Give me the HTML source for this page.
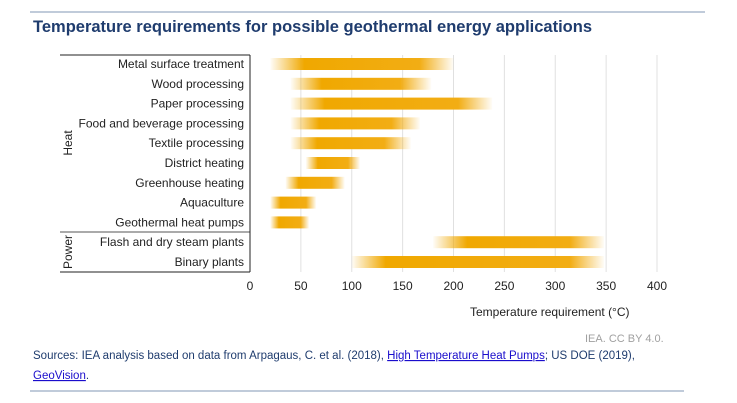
<!DOCTYPE html>
<html><head><meta charset="utf-8"><style>
body{margin:0;background:#fff;width:737px;height:403px;overflow:hidden;font-family:"Liberation Sans",Arial,sans-serif;}
svg{position:absolute;left:0;top:0}
</style></head><body>
<svg id="chart" width="737" height="403" xmlns="http://www.w3.org/2000/svg">
<line x1="30" y1="12" x2="705" y2="12" stroke="#8297b5" stroke-width="1"/>
<text x="33" y="32" font-size="16.5" font-weight="bold" fill="#1f3c6e">Temperature requirements for possible geothermal energy applications</text>
<g id="grid"></g>
<g id="bars"></g>
<g id="labels"></g>
<line x1="60" y1="55" x2="250" y2="55" stroke="#222"/>
<line x1="60" y1="232" x2="250" y2="232" stroke="#555"/>
<line x1="60" y1="272" x2="250" y2="272" stroke="#222"/>
<line x1="250" y1="55" x2="250" y2="272" stroke="#222"/>
<text transform="translate(72,143) rotate(-90)" text-anchor="middle" font-size="12" fill="#222">Heat</text>
<text transform="translate(72,252) rotate(-90)" text-anchor="middle" font-size="12" fill="#222">Power</text>
<text x="470" y="316" font-size="12" fill="#222">Temperature requirement (°C)</text>
<text x="585" y="342" font-size="11" fill="#a0a0a0">IEA. CC BY 4.0.</text>
<text x="33" y="359" font-size="11.5" fill="#1f3c6e">Sources: IEA analysis based on data from Arpagaus, C. et al. (2018),   <tspan fill="#1a0dcc" text-decoration="underline">High Temperature Heat Pumps</tspan>; US DOE (2019),</text>
<text x="33" y="379" font-size="11.5" fill="#1f3c6e"><tspan fill="#1a0dcc" text-decoration="underline">GeoVision</tspan>.</text>
<line x1="30" y1="391" x2="684" y2="391" stroke="#8297b5"/>
<defs id="defs"></defs>
</svg>
<script>
const categories=["Metal surface treatment","Wood processing","Paper processing","Food and beverage processing","Textile processing","District heating","Greenhouse heating","Aquaculture","Geothermal heat pumps","Flash and dry steam plants","Binary plants"];
const minTemps=[20,40,40,40,40,55,35,20,20,180,100];
const maxTemps=[200,178,238,167,158,108,93,65,58,348,348];
const ticks=[0,50,100,150,200,250,300,350,400];
const NS="http://www.w3.org/2000/svg";
const x=v=>250+v*(407/400);
const y=i=>64+i*19.8;
const grid=document.getElementById('grid'),bars=document.getElementById('bars'),labels=document.getElementById('labels'),defs=document.getElementById('defs');
function mk(t,a,p){const e=document.createElementNS(NS,t);for(const k in a)e.setAttribute(k,a[k]);p.appendChild(e);return e;}
ticks.forEach(t=>{
  if(t>0){const l=mk('line',{x1:x(t),x2:x(t),y1:55,y2:272,stroke:'#e0e0e0'},grid);
  
  }
  const tx=mk('text',{x:x(t),y:290,'text-anchor':'middle','font-size':12,fill:'#222'},grid);
  tx.textContent=t;
  
  
});
categories.forEach((c,i)=>{
  const x0=x(minTemps[i]),x1=x(maxTemps[i]),w=x1-x0;
  const f=Math.min(0.22,34/w);
  const g=mk('linearGradient',{id:'g'+i,x1:0,x2:1,y1:0,y2:0},defs);
  mk('stop',{offset:0,'stop-color':'#f0a800','stop-opacity':0.03},g);
  mk('stop',{offset:f,'stop-color':'#f0a800','stop-opacity':1},g);
  mk('stop',{offset:1-f,'stop-color':'#f2ad14','stop-opacity':1},g);
  mk('stop',{offset:1,'stop-color':'#f2ad14','stop-opacity':0.03},g);
  const r=mk('rect',{x:x0,y:y(i)-6,width:w,height:12,fill:'url(#g'+i+')'},bars);
  
  
  const t=mk('text',{x:244,y:y(i)+4,'text-anchor':'end','font-size':12,fill:'#222'},labels);
  t.textContent=c;
  
  
});
</script>
</body></html>
